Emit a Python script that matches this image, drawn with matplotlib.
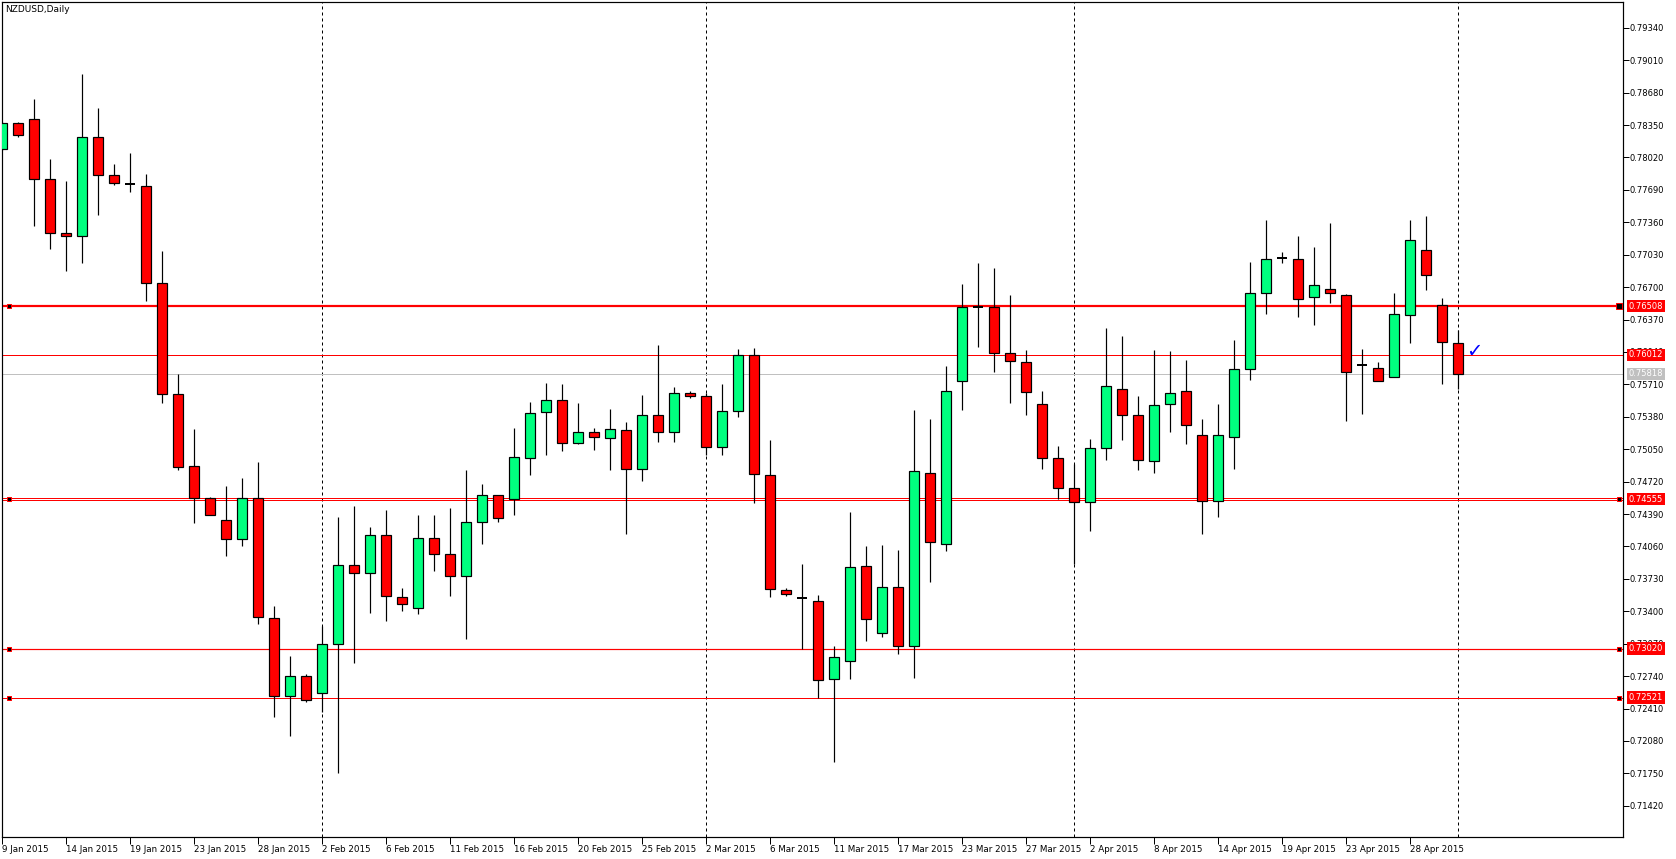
import numpy as np
import matplotlib
matplotlib.use('Agg')
import matplotlib.pyplot as plt
from matplotlib.transforms import blended_transform_factory

# daily NZDUSD bars
opens = [0.78107, 0.78373, 0.78411, 0.77800, 0.77254, 0.77221, 0.78233, 0.77837, 0.77748, 0.77730,
         0.76746, 0.75617, 0.74876, 0.74550, 0.74330, 0.74135, 0.74550, 0.73333, 0.72540, 0.72745,
         0.72572, 0.73064, 0.73868, 0.73787, 0.74173, 0.73542, 0.73431, 0.74143, 0.73980, 0.73756,
         0.74306, 0.74581, 0.74540, 0.74958, 0.75426, 0.75548, 0.75110, 0.75222, 0.75161, 0.75243,
         0.74845, 0.75395, 0.75222, 0.75619, 0.75589, 0.75070, 0.75436, 0.76006, 0.74785, 0.73613,
         0.73532, 0.73502, 0.72708, 0.72891, 0.73858, 0.73176, 0.73644, 0.73044, 0.74805, 0.74081,
         0.75741, 0.76500, 0.76500, 0.76026, 0.75935, 0.75507, 0.74957, 0.74652, 0.74510, 0.75059,
         0.75660, 0.75395, 0.74926, 0.75507, 0.75640, 0.75192, 0.74520, 0.75172, 0.75864, 0.76637,
         0.77000, 0.76983, 0.76596, 0.76678, 0.76617, 0.75904, 0.75874, 0.75782, 0.76413, 0.77075,
         0.76515, 0.76128]
highs = [0.78380, 0.78380, 0.78616, 0.78000, 0.77776, 0.78872, 0.78527, 0.77958, 0.78061, 0.77856,
         0.77072, 0.75813, 0.75258, 0.74568, 0.74675, 0.74759, 0.74923, 0.73458, 0.72941, 0.72763,
         0.73253, 0.74360, 0.74472, 0.74258, 0.74431, 0.73637, 0.74380, 0.74380, 0.74452, 0.74838,
         0.74693, 0.74581, 0.75263, 0.75531, 0.75724, 0.75714, 0.75521, 0.75267, 0.75459, 0.75327,
         0.75602, 0.76111, 0.75683, 0.75643, 0.75626, 0.75714, 0.76070, 0.76080, 0.75144, 0.73637,
         0.73882, 0.73566, 0.73047, 0.74411, 0.74065, 0.74075, 0.74024, 0.75449, 0.75358, 0.75897,
         0.76732, 0.76946, 0.76895, 0.76620, 0.76060, 0.75640, 0.75080, 0.74896, 0.75154, 0.76284,
         0.76203, 0.75592, 0.76060, 0.76050, 0.75958, 0.75358, 0.75510, 0.76162, 0.76956, 0.77383,
         0.77058, 0.77221, 0.77109, 0.77353, 0.76627, 0.76067, 0.75935, 0.76637, 0.77383, 0.77424,
         0.76586, 0.76264]
lows = [0.78100, 0.78229, 0.77324, 0.77091, 0.76867, 0.76946, 0.77436, 0.77744, 0.77669, 0.76559,
        0.75524, 0.74834, 0.74298, 0.74377, 0.73962, 0.74065, 0.73272, 0.72321, 0.72134, 0.72479,
        0.72377, 0.71754, 0.72871, 0.73386, 0.73305, 0.73406, 0.73369, 0.73814, 0.73559, 0.73115,
        0.74088, 0.74313, 0.74384, 0.74791, 0.74994, 0.75035, 0.75100, 0.75045, 0.74842, 0.74190,
        0.74723, 0.75127, 0.75127, 0.75575, 0.74991, 0.74991, 0.75381, 0.74506, 0.73549, 0.73559,
        0.73016, 0.72514, 0.71869, 0.72715, 0.73101, 0.73142, 0.72966, 0.72724, 0.73702, 0.74013,
        0.75452, 0.76094, 0.75839, 0.75524, 0.75401, 0.74852, 0.74540, 0.73880, 0.74221, 0.74944,
        0.75147, 0.74842, 0.74811, 0.75229, 0.75106, 0.74190, 0.74357, 0.74846, 0.75758, 0.76430,
        0.76949, 0.76399, 0.76318, 0.76542, 0.75340, 0.75405, 0.75741, 0.75782, 0.76135, 0.76674,
        0.75717, 0.75660]
closes = [0.78373, 0.78247, 0.77800, 0.77254, 0.77217, 0.78233, 0.77837, 0.77762, 0.77748, 0.76746,
          0.75617, 0.74867, 0.74554, 0.74377, 0.74135, 0.74550, 0.73342, 0.72540, 0.72745, 0.72498,
          0.73067, 0.73868, 0.73787, 0.74173, 0.73552, 0.73471, 0.74143, 0.73980, 0.73756, 0.74306,
          0.74581, 0.74347, 0.74968, 0.75416, 0.75548, 0.75110, 0.75222, 0.75171, 0.75253, 0.74845,
          0.75395, 0.75222, 0.75619, 0.75589, 0.75070, 0.75436, 0.76006, 0.74795, 0.73624, 0.73572,
          0.73532, 0.72698, 0.72932, 0.73848, 0.73319, 0.73644, 0.73044, 0.74825, 0.74102, 0.75640,
          0.76501, 0.76500, 0.76026, 0.75945, 0.75629, 0.74957, 0.74652, 0.74510, 0.75059, 0.75690,
          0.75395, 0.74937, 0.75497, 0.75619, 0.75293, 0.74520, 0.75192, 0.75864, 0.76637, 0.76983,
          0.77000, 0.76576, 0.76719, 0.76637, 0.75833, 0.75904, 0.75741, 0.76423, 0.77177, 0.76820,
          0.76138, 0.75818]

date_labels = ['9 Jan 2015', '14 Jan 2015', '19 Jan 2015', '23 Jan 2015', '28 Jan 2015',
               '2 Feb 2015', '6 Feb 2015', '11 Feb 2015', '16 Feb 2015', '20 Feb 2015',
               '25 Feb 2015', '2 Mar 2015', '6 Mar 2015', '11 Mar 2015', '17 Mar 2015',
               '23 Mar 2015', '27 Mar 2015', '2 Apr 2015', '8 Apr 2015', '14 Apr 2015',
               '19 Apr 2015', '23 Apr 2015', '28 Apr 2015']
date_every = 4
month_starts = [20, 44, 67, 91]

price_ticks = [0.71420, 0.71750, 0.72080, 0.72410, 0.72740, 0.73070, 0.73400, 0.73730,
               0.74060, 0.74390, 0.74720, 0.75050, 0.75380, 0.75710, 0.76040, 0.76370,
               0.76700, 0.77030, 0.77360, 0.77690, 0.78020, 0.78350, 0.78680, 0.79010, 0.79340]

levels = [0.76508, 0.76012, 0.74555, 0.74528, 0.73020, 0.72521]
level_widths = [2.2, 1.0, 1.0, 1.0, 1.2, 1.0]
level_labels = [(0.76508, '0.76508'), (0.76012, '0.76012'), (0.74540, '0.74555'),
                (0.73020, '0.73020'), (0.72521, '0.72521')]
marked_levels = [0.76508, 0.74542, 0.73020, 0.72521]
last_price = 0.75818

W, H = 1676, 859
px = 0.72  # one pixel in points

fig = plt.figure(figsize=(W / 100, H / 100), dpi=100)
ax = fig.add_axes([2.3 / W, 22 / H, (1623 - 2.3) / W, 835 / H])

x = np.arange(len(opens))
o = np.array(opens)
c = np.array(closes)

# wicks
ax.vlines(x, lows, highs, color='black', lw=1.2 * px, zorder=2)

# bodies
up = c > o
down = c < o
doji = c == o
ax.bar(x[up], (c - o)[up], bottom=o[up], width=0.62, color='#00FF7F',
       edgecolor='black', linewidth=1.2 * px, zorder=3)
ax.bar(x[down], (o - c)[down], bottom=c[down], width=0.62, color='#FF0000',
       edgecolor='black', linewidth=1.2 * px, zorder=3)
ax.hlines(o[doji], x[doji] - 0.31, x[doji] + 0.31, color='black', lw=2 * px, zorder=3)

# month separators
for m in month_starts:
    ax.axvline(m, color='black', lw=px, linestyle=(0, (3, 3)), zorder=1)

# horizontal levels
for lv, lw in zip(levels, level_widths):
    ax.axhline(lv, color='#FF0000', lw=lw * px, zorder=1)
ax.axhline(last_price, color='#C0C0C0', lw=px, zorder=1)

tr = blended_transform_factory(ax.transAxes, ax.transData)
for lv in marked_levels:
    big = lv == 0.76508
    ax.plot([0.004], [lv], marker='s', ms=(5 if big else 4) * px, mfc='black', mec='#FF0000',
            mew=px, transform=tr, clip_on=False, zorder=5)
    ax.plot([0.9975], [lv], marker='s', ms=(6 if big else 4) * px, mfc='black', mec='#FF0000',
            mew=px, transform=tr, clip_on=False, zorder=5)

for lv, txt in level_labels:
    ax.text(1.0035, lv, txt, transform=tr, color='white', fontsize=6, va='center', ha='left',
            bbox=dict(boxstyle='square,pad=0.2', fc='#FF0000', ec='none'), zorder=6)
ax.text(1.0035, last_price, '0.75818', transform=tr, color='white', fontsize=6, va='center',
        ha='left', bbox=dict(boxstyle='square,pad=0.2', fc='#C0C0C0', ec='none'), zorder=6)

# check mark next to the last bar
ax.text(x[-1] + 0.5, 0.76040, '\u2713', color='#0000FF', fontsize=14, va='center', ha='left')

ax.set_xlim(0, (1623 - 2.3) / 16)
ax.set_ylim(0.71102, 0.79603)

ax.yaxis.tick_right()
ax.set_yticks(price_ticks)
ax.set_yticklabels(['%.5f' % t for t in price_ticks])
ax.tick_params(axis='y', direction='out', length=4, width=px, labelsize=6, pad=1)

ax.set_xticks(np.arange(len(date_labels)) * date_every)
ax.set_xticklabels(date_labels)
for lab in ax.get_xticklabels():
    lab.set_horizontalalignment('left')
ax.tick_params(axis='x', direction='out', length=5, width=px, labelsize=6.3, pad=1)

for s in ax.spines.values():
    s.set_linewidth(1.2 * px)
    s.set_color('black')

fig.text(5 / W, 1 - 10 / H, 'NZDUSD,Daily', fontsize=6.5, va='center', ha='left')

fig.savefig('out.png', dpi=100, facecolor='white')
